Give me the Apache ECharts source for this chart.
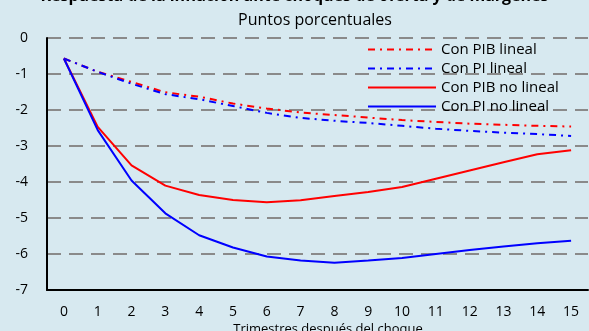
<!DOCTYPE html>
<html><head><meta charset="utf-8">
<script src="https://cdn.jsdelivr.net/npm/echarts@6/dist/echarts.min.js"></script>
<style>html,body{margin:0;padding:0;background:#d7e9f0;}#c{width:589px;height:331px;}</style>
</head><body><div id="c"></div>
<script>
const categories = ['0','1','2','3','4','5','6','7','8','9','10','11','12','13','14','15'];
const pibLineal   = [-0.57,-0.94,-1.22,-1.51,-1.63,-1.82,-1.96,-2.07,-2.14,-2.21,-2.28,-2.33,-2.38,-2.41,-2.44,-2.46];
const piLineal    = [-0.57,-0.94,-1.27,-1.56,-1.70,-1.89,-2.08,-2.22,-2.30,-2.36,-2.44,-2.52,-2.58,-2.63,-2.67,-2.72];
const pibNoLineal = [-0.57,-2.47,-3.54,-4.10,-4.36,-4.50,-4.56,-4.51,-4.39,-4.28,-4.14,-3.91,-3.68,-3.45,-3.23,-3.12];
const piNoLineal  = [-0.57,-2.56,-3.96,-4.87,-5.48,-5.82,-6.07,-6.18,-6.24,-6.18,-6.11,-6.00,-5.89,-5.79,-5.70,-5.63];
const yTicks = [0,-1,-2,-3,-4,-5,-6,-7];
const seriesNames = ['Con PIB lineal','Con PI lineal','Con PIB no lineal','Con PI no lineal'];

const chart = echarts.init(document.getElementById('c'));
const font = 'Open Sans';
const dashDot = [7,5,2,5];
chart.setOption({
  backgroundColor: '#d7e9f0',
  animation: false,
  textStyle: {fontFamily: font},
  title: [
    {text: 'Respuesta de la inflación ante choques de oferta y de márgenes', left: 'center', top: -17,
     textStyle: {fontSize: 16, fontWeight: 'bold', color: '#000', fontFamily: font}},
    {text: 'Puntos porcentuales', left: 310, textAlign: 'center', top: 7,
     textStyle: {fontSize: 16, fontWeight: 'normal', color: '#000', fontFamily: font}},
    {text: 'Trimestres después del choque', left: 323, textAlign: 'center', top: 318,
     textStyle: {fontSize: 13, fontWeight: 'normal', color: '#000', fontFamily: font}}
  ],
  legend: {
    orient: 'vertical', left: 362, top: 37, itemWidth: 68, itemHeight: 14, itemGap: 4,
    itemStyle: {opacity: 0},
    textStyle: {fontSize: 15, color: '#000', fontFamily: font},
    data: seriesNames
  },
  grid: {left: 47, right: 1, top: 38, bottom: 41, containLabel: false},
  xAxis: {
    type: 'category', data: categories, boundaryGap: true,
    axisLine: {show: true, onZero: false, lineStyle: {color: '#000', width: 2}},
    axisTick: {show: false},
    axisLabel: {fontSize: 14, color: '#000', margin: 15, fontFamily: font},
    splitLine: {show: false}
  },
  yAxis: {
    type: 'value', min: -7, max: 0, interval: 1,
    axisLine: {show: true, lineStyle: {color: '#000', width: 2}},
    axisTick: {show: false},
    axisLabel: {fontSize: 14, color: '#000', margin: 19, fontFamily: font,
      formatter: v => yTicks.includes(v) ? String(v) : ''},
    splitLine: {show: true, lineStyle: {color: '#8a8a8a', width: 2, type: [14, 8]}}
  },
  series: [
    {name: seriesNames[0], type: 'line', data: pibLineal, symbol: 'none', z: 3,
     lineStyle: {color: '#ff0000', width: 2, type: dashDot}, itemStyle: {color: '#ff0000'}},
    {name: seriesNames[1], type: 'line', data: piLineal, symbol: 'none', z: 3,
     lineStyle: {color: '#0000ff', width: 2, type: dashDot}, itemStyle: {color: '#0000ff'}},
    {name: seriesNames[2], type: 'line', data: pibNoLineal, symbol: 'none', z: 3,
     lineStyle: {color: '#ff0000', width: 2}, itemStyle: {color: '#ff0000'}},
    {name: seriesNames[3], type: 'line', data: piNoLineal, symbol: 'none', z: 4,
     lineStyle: {color: '#0000ff', width: 2}, itemStyle: {color: '#0000ff'}}
  ]
});
</script></body></html>
